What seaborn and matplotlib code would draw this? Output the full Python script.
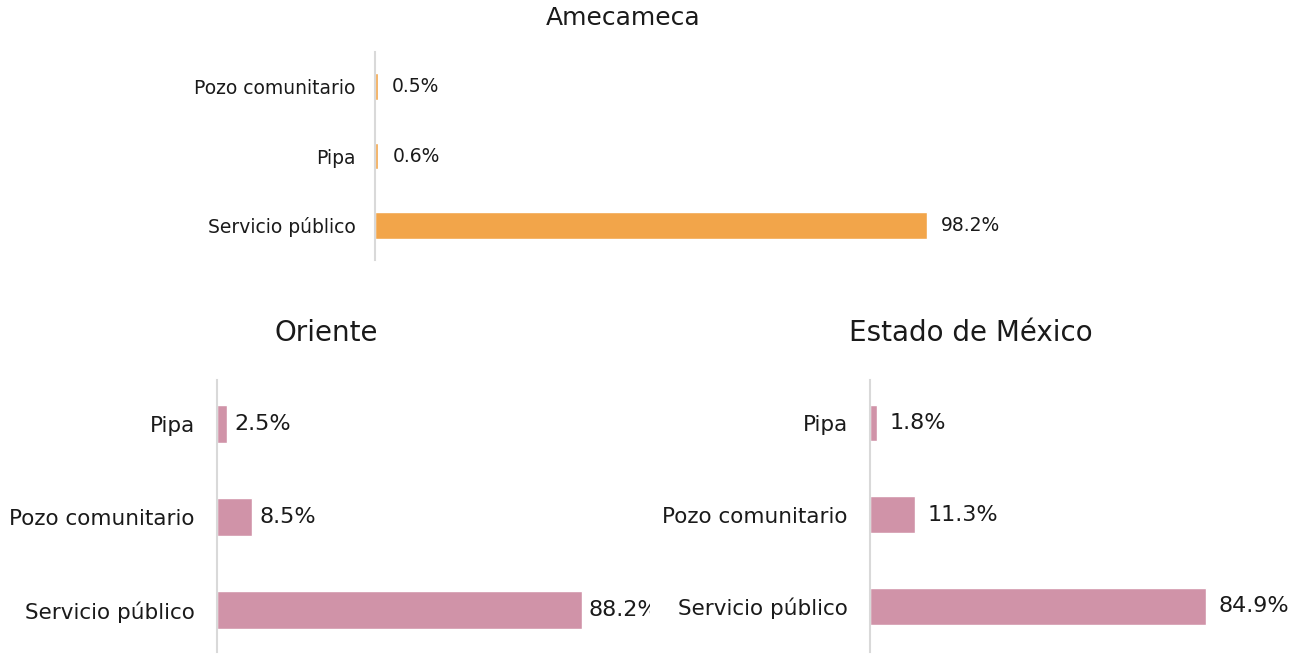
import matplotlib
matplotlib.use("Agg")
import matplotlib.pyplot as plt
import seaborn as sns
import pandas as pd

# Fuente de abastecimiento de agua (% de viviendas)
amecameca_cats = ["Pozo comunitario", "Pipa", "Servicio público"]
amecameca_vals = [0.5, 0.6, 98.2]

oriente_cats = ["Pipa", "Pozo comunitario", "Servicio público"]
oriente_vals = [2.5, 8.5, 88.2]

edomex_cats = ["Pipa", "Pozo comunitario", "Servicio público"]
edomex_vals = [1.8, 11.3, 84.9]

ORANGE = "#F2A54A"
PINK = "#D093A8"
AXIS_GREY = "#D9D9D9"
TEXT = "#1a1a1a"

sns.set_theme(style="white")
plt.rcParams["font.family"] = ["DejaVu Sans"]

W, H = 1303, 654
fig = plt.figure(figsize=(W / 100, H / 100), dpi=100)


def px_axes(left, top, right, bottom):
    return fig.add_axes([left / W, 1 - bottom / H, (right - left) / W, (bottom - top) / H])


def draw_panel(ax, cats, vals, color, bar_w, xmax, ylim, tick_fs, label_fs, offset, pad):
    df = pd.DataFrame({"cat": cats, "val": vals})
    sns.barplot(data=df, x="val", y="cat", ax=ax, color=color, width=bar_w,
                orient="h", saturation=1, order=cats)
    ax.set_xlim(0, xmax)
    ax.set_ylim(*ylim)
    ax.set_xlabel("")
    ax.set_ylabel("")
    ax.set_xticks([])
    for s in ["top", "right", "bottom"]:
        ax.spines[s].set_visible(False)
    ax.spines["left"].set_color(AXIS_GREY)
    ax.spines["left"].set_linewidth(1.5)
    ax.tick_params(axis="y", length=0, pad=pad, labelsize=tick_fs, labelcolor=TEXT)
    for i, v in enumerate(vals):
        ax.annotate(f"{v:.1f}%", xy=(v, i), xytext=(offset, 0), textcoords="offset points",
                    va="center", ha="left", fontsize=label_fs, color=TEXT,
                    annotation_clip=False, clip_on=True)


# Amecameca
ax1 = px_axes(375, 52, 1100, 260)
draw_panel(ax1, amecameca_cats, amecameca_vals, ORANGE, 0.38, 725 / 5.62,
           (2.5, -0.5), 13.5, 13.5, 10, 14)
fig.text(623 / W, 1 - 18 / H, "Amecameca", ha="center", va="center", fontsize=18, color=TEXT)

# Oriente
ax2 = px_axes(217, 380, 650, 652)
draw_panel(ax2, oriente_cats, oriente_vals, PINK, 0.41, 433 / 4.138,
           (2.45, -0.47), 15.5, 16, 5, 16)
fig.text(326 / W, 1 - 333 / H, "Oriente", ha="center", va="center", fontsize=20, color=TEXT)

# Estado de México
ax3 = px_axes(870, 380, 1303, 652)
draw_panel(ax3, edomex_cats, edomex_vals, PINK, 0.40, 433 / 3.958,
           (2.5, -0.47), 15.5, 16, 9, 16)
fig.text(971 / W, 1 - 333 / H, "Estado de México", ha="center", va="center", fontsize=20, color=TEXT)

fig.savefig("out.png", dpi=100, facecolor="white")
